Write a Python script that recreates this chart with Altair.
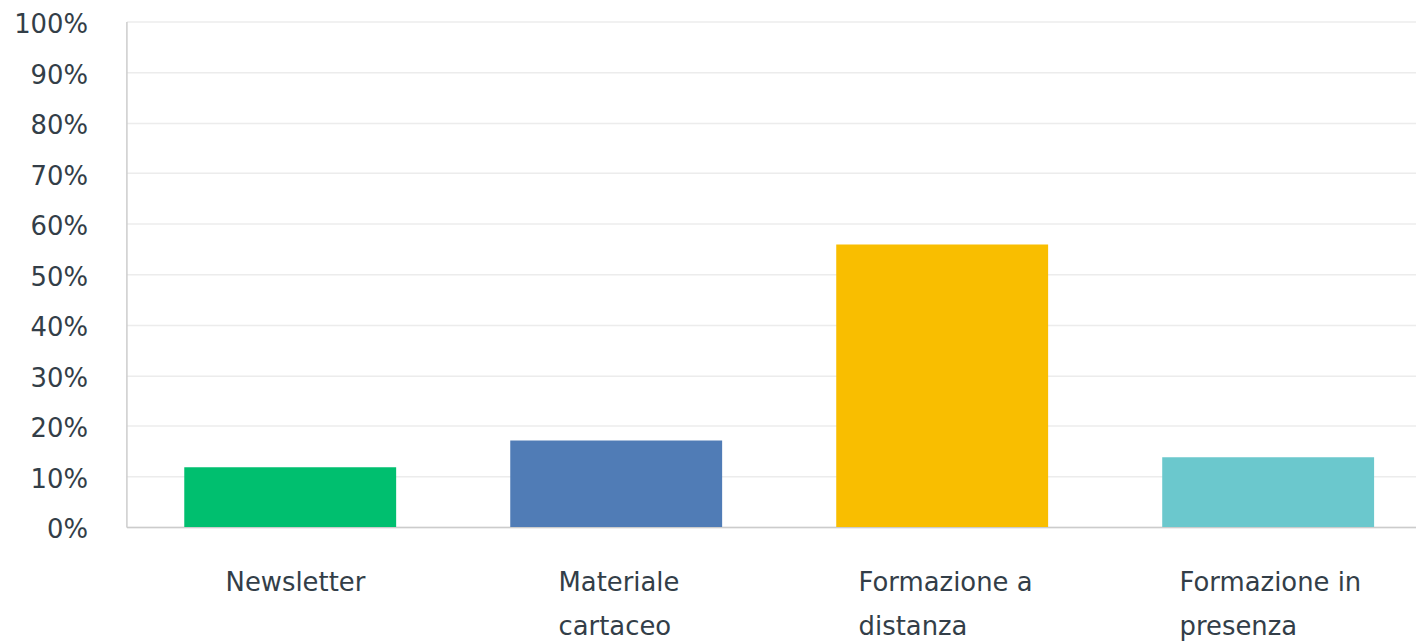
import altair as alt
import pandas as pd

categories = ["Newsletter", "Materiale cartaceo", "Formazione a distanza", "Formazione in presenza"]
values = [0.118, 0.171, 0.559, 0.138]
colors = ["#00bf6f", "#507cb6", "#f9be00", "#6bc8cd"]
y_ticks = [0, 0.1, 0.2, 0.3, 0.4, 0.5, 0.6, 0.7, 0.8, 0.9, 1.0]

df = pd.DataFrame({"cat": categories, "val": values})

label_expr = (
    "indexof(datum.label, ' ') < 0 ? datum.label : "
    "[slice(datum.label, 0, lastindexof(datum.label, ' ')), "
    "slice(datum.label, lastindexof(datum.label, ' ') + 1)]"
)

offset_cond = {
    "condition": [
        {"test": "datum.value === 'Newsletter'", "value": -65},
        {"test": "datum.value === 'Materiale cartaceo'", "value": -58},
        {"test": "datum.value === 'Formazione a distanza'", "value": -84},
    ],
    "value": -89,
}

FONT = "DejaVu Sans"
TXT = "#333e48"

chart = alt.Chart(df).mark_bar().encode(
    x=alt.X(
        "cat:N",
        sort=None,
        title=None,
        scale=alt.Scale(paddingInner=0.35, paddingOuter=0.153, align=0.58, round=False),
        axis=alt.Axis(
            labelExpr=label_expr,
            labelAngle=0,
            labelAlign="left",
            labelOffset=offset_cond,
            labelBaseline="top",
            labelPadding=43,
            labelLineHeight=44,
            ticks=False,
            grid=False,
            domainColor="#cccccc",
            domainWidth=1.5,
            labelFontSize=26,
            labelFont=FONT,
            labelColor=TXT,
            labelLimit=400,
        ),
    ),
    y=alt.Y(
        "val:Q",
        title=None,
        scale=alt.Scale(domain=[0, 1]),
        axis=alt.Axis(
            format="%",
            values=y_ticks,
            ticks=False,
            labelPadding=39,
            labelOffset=3,
            labelFlush=False,
            gridColor="#ececec",
            gridWidth=1.5,
            domainColor="#cccccc",
            domainWidth=1.5,
            labelFontSize=26,
            labelFont=FONT,
            labelColor=TXT,
        ),
    ),
    color=alt.Color("cat:N", scale=alt.Scale(domain=categories, range=colors), legend=None),
).properties(
    width=1296,
    height=508,
    autosize=alt.AutoSizeParams(type="none"),
    padding={"left": 119, "top": 12, "right": 0, "bottom": 121},
).configure_view(stroke=None)

chart.save("out.html", embed_options={"renderer": "svg", "actions": False})
